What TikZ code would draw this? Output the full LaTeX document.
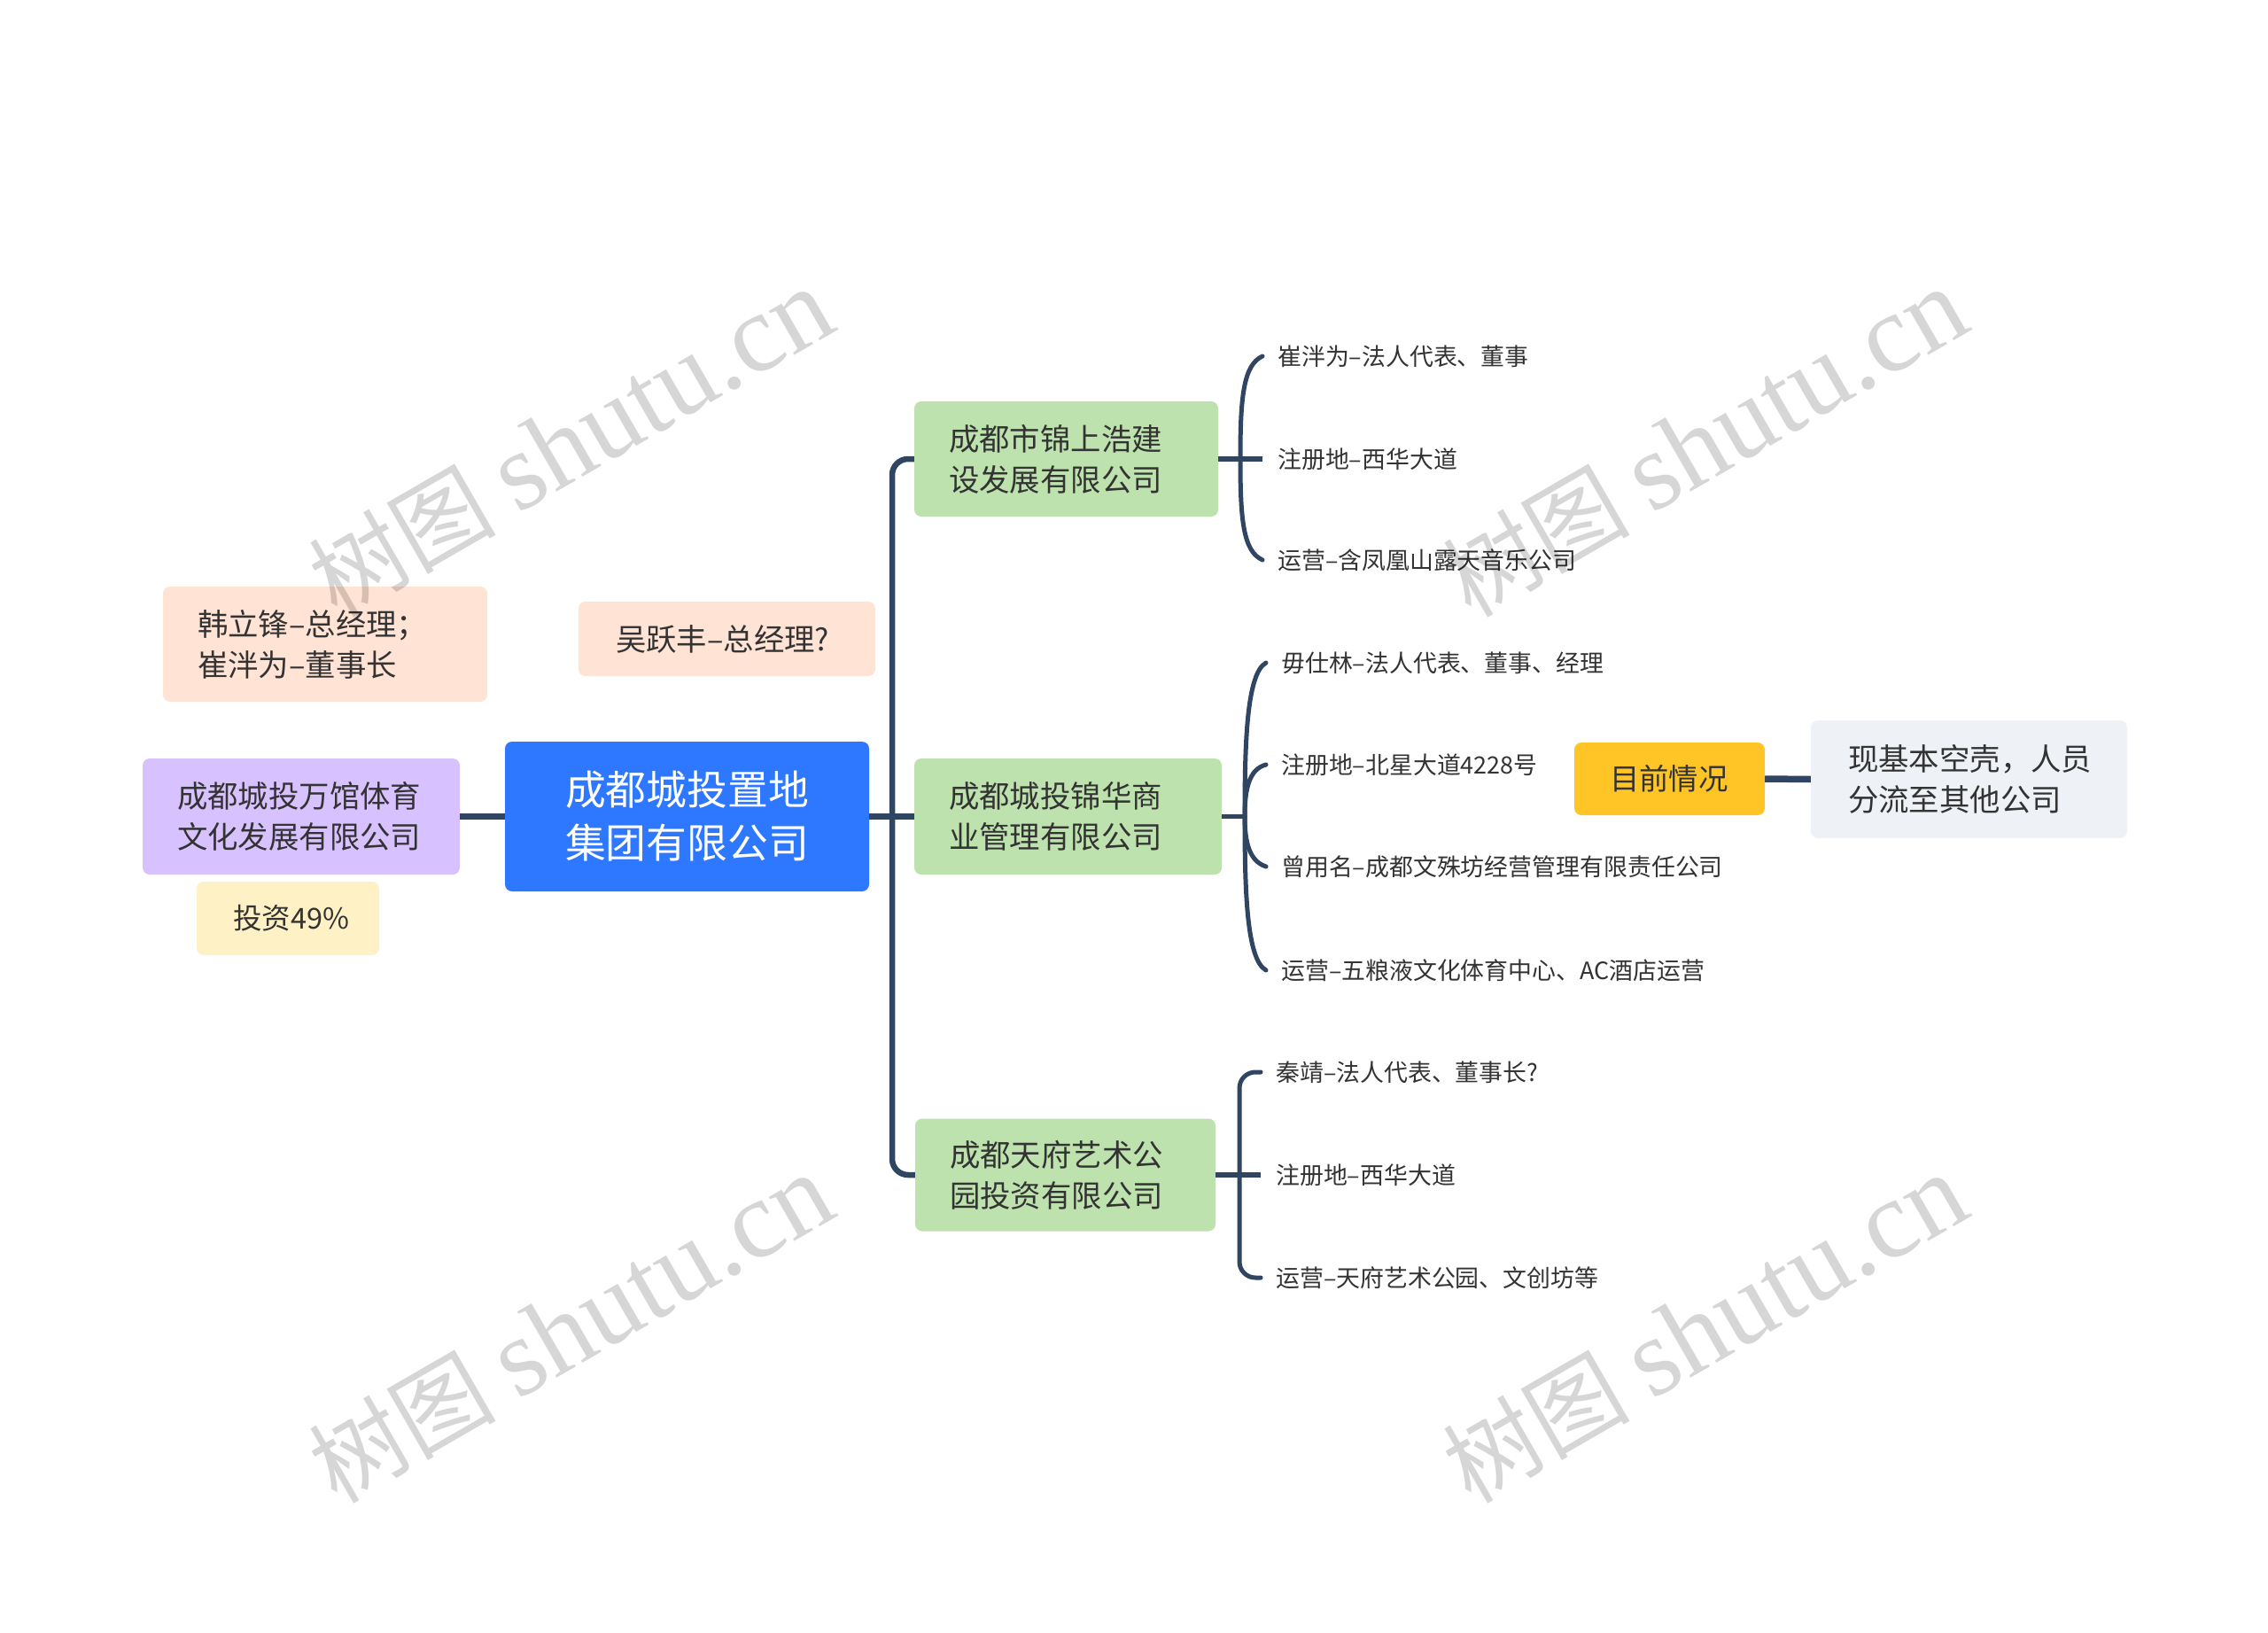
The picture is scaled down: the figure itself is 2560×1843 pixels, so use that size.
\documentclass[tikz,border=0pt]{standalone}
\usepackage{fontspec}
\setmainfont{Noto Sans CJK SC}
\newfontfamily\wmlatin{Liberation Serif}
\definecolor{linec}{HTML}{2F4562}
\definecolor{textc}{HTML}{333333}
\definecolor{rootc}{HTML}{2E78FF}
\definecolor{greenc}{HTML}{BDE2AD}
\definecolor{peachc}{HTML}{FFE3D4}
\definecolor{purplec}{HTML}{D7C2FF}
\definecolor{creamc}{HTML}{FFF1C6}
\definecolor{orangec}{HTML}{FFC425}
\definecolor{greyc}{HTML}{EEF1F5}
\tikzset{
 boxn/.style={rounded corners=8pt,inner ysep=0pt,align=left,text=textc,font=\fontsize{34.4}{46}\selectfont},
 leaf/.style={anchor=west,inner xsep=17pt,inner ysep=2pt,text=textc,font=\fontsize{26.9}{30}\selectfont},
 conn/.style={draw=linec,line width=6.5pt,line cap=butt,line join=round},
 twig/.style={draw=linec,line width=5pt,line cap=round,line join=round},
 wm/.style={rotate=30,text=black,opacity=0.16,font=\fontsize{106}{106}\selectfont}
}
\begin{document}
\begin{tikzpicture}[x=1pt,y=-1pt]
\useasboundingbox[fill=white] (0,0) rectangle (2560,1843);
% nodes
\node[boxn,fill=rootc,text=white,inner xsep=68pt,text width=275pt,minimum height=169pt,font=\fontsize{45.8}{60}\selectfont] (root) at (775.5,921.5) {成都城投置地\\集团有限公司};
\node[boxn,fill=greenc,inner xsep=39pt,text width=265pt,minimum height=130pt] (g1) at (1203.5,518) {成都市锦上浩建\\设发展有限公司};
\node[boxn,fill=greenc,inner xsep=39pt,text width=269pt,minimum height=131pt] (g2) at (1205.5,921.5) {成都城投锦华商\\业管理有限公司};
\node[boxn,fill=greenc,inner xsep=39pt,text width=261pt,minimum height=127pt] (g3) at (1202.5,1326) {成都天府艺术公\\园投资有限公司};
\node[boxn,fill=purplec,inner xsep=39pt,text width=280pt,minimum height=131pt] (pur) at (340,921.5) {成都城投万馆体育\\文化发展有限公司};
\node[boxn,fill=creamc,inner xsep=41pt,text width=124pt,minimum height=83pt,font=\fontsize{32.5}{46}\selectfont] (cream) at (325,1036.5) {投资49\%};
\node[boxn,fill=peachc,inner xsep=39pt,text width=288pt,minimum height=130pt] (p1) at (367,727) {韩立锋–总经理；\\崔泮为–董事长};
\node[boxn,fill=peachc,inner xsep=42pt,text width=251pt,minimum height=84pt] (p2) at (820.5,721) {吴跃丰–总经理?};
\node[boxn,fill=orangec,inner xsep=40pt,text width=135pt,minimum height=82pt,font=\fontsize{33.4}{46}\selectfont] (now) at (1884.5,879) {目前情况};
\node[boxn,fill=greyc,inner xsep=42pt,text width=273pt,minimum height=133pt] (shell) at (2222.5,879.5) {现基本空壳，人员\\分流至其他公司};
% leaves
\node[leaf] (a1) at (1425,402) {崔泮为–法人代表、董事};
\node[leaf] (a2) at (1425,518) {注册地–西华大道};
\node[leaf] (a3) at (1425,632) {运营–含凤凰山露天音乐公司};
\node[leaf] (b1) at (1429,748) {毋仕林–法人代表、董事、经理};
\node[leaf] (b2) at (1429,863) {注册地–北星大道4228号};
\node[leaf] (b3) at (1429,978) {曾用名–成都文殊坊经营管理有限责任公司};
\node[leaf] (b4) at (1429,1095) {运营–五粮液文化体育中心、AC酒店运营};
\node[leaf] (c1) at (1423,1210) {秦靖–法人代表、董事长?};
\node[leaf] (c2) at (1423,1326) {注册地–西华大道};
\node[leaf] (c3) at (1423,1442) {运营–天府艺术公园、文创坊等};
% connector anchors
\coordinate (t1) at (1007,518);
\coordinate (t3) at (1007,1326);
\coordinate (ba) at (1400,518);
\coordinate (bb) at (1405,921.5);
% connectors
\draw[conn,line width=7.5pt] (pur.east) -- (root.west);
\draw[conn,line width=7.5pt] (now.east) -- (shell.west);
\draw[conn] (root.east) -- (g2.west);
\draw[conn,rounded corners=18pt] (g1.west) -- (t1) -- (t3) -- (g3.west);
\draw[conn,line width=5.5pt] (g1.east) -- (a2.west);
\draw[conn,line width=5.5pt] (g2.east) -- (bb);
\draw[conn,line width=5.5pt] (g3.east) -- (c2.west);
\draw[twig] (ba) .. controls (1400,450) and (1403,412) .. (a1.west);
\draw[twig] (ba) .. controls (1400,586) and (1403,622) .. (a3.west);
\draw[twig] (bb) .. controls (1405,840) and (1407,760) .. (b1.west);
\draw[twig] (bb) .. controls (1405,890) and (1410,868) .. (b2.west);
\draw[twig] (bb) .. controls (1405,950) and (1410,972) .. (b3.west);
\draw[twig] (bb) .. controls (1405,1005) and (1407,1083) .. (b4.west);
\draw[twig,rounded corners=18pt] (c1.west) -- (1399,1210) -- (1399,1442) -- (c3.west);
% watermarks
\node[wm] (w1) at (644,500) {树图 {\wmlatin\fontsize{125}{125}\selectfont shutu.cn}};
\node[wm] (w2) at (1924,500) {树图 {\wmlatin\fontsize{125}{125}\selectfont shutu.cn}};
\node[wm] (w3) at (644,1500) {树图 {\wmlatin\fontsize{125}{125}\selectfont shutu.cn}};
\node[wm] (w4) at (1924,1500) {树图 {\wmlatin\fontsize{125}{125}\selectfont shutu.cn}};
\end{tikzpicture}
\end{document}
